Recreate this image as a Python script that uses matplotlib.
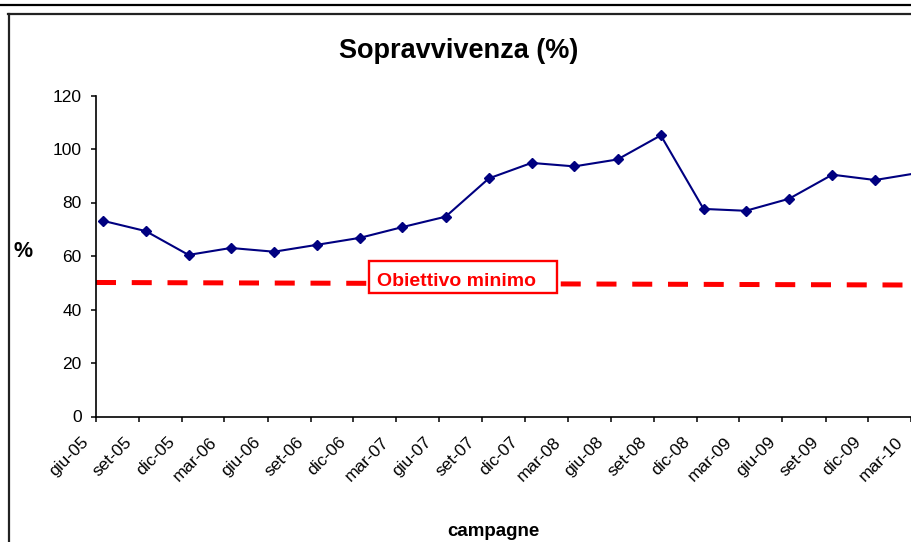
import matplotlib
matplotlib.use("Agg")
import matplotlib.pyplot as plt
import matplotlib.transforms as mtransforms
from matplotlib.lines import Line2D
from matplotlib.patches import Rectangle
import pandas as pd

plt.rcParams["font.family"] = ["Liberation Sans", "DejaVu Sans"]

# Quarterly survey campaigns
campagne = ["giu-05", "set-05", "dic-05", "mar-06", "giu-06", "set-06", "dic-06",
            "mar-07", "giu-07", "set-07", "dic-07", "mar-08", "giu-08", "set-08",
            "dic-08", "mar-09", "giu-09", "set-09", "dic-09", "mar-10"]
sopravvivenza = [73.2, 69.3, 60.4, 63.0, 61.6, 64.2, 66.8,
                 70.8, 74.7, 89.0, 94.8, 93.5, 96.1, 105.1,
                 77.6, 76.9, 81.4, 90.4, 88.4, 91.0]
obiettivo_inizio = 50.1
obiettivo_fine = 49.1

W, H = 912, 542
fig = plt.figure(figsize=(W / 100, H / 100), dpi=100)

def fx(px):
    return px / W

def fy(py):
    return 1 - py / H

# Campaign start dates (ticks) and mid-month sampling dates (points)
inizio = pd.date_range("2005-06-01", periods=len(campagne), freq="3MS")
date_misura = inizio + pd.Timedelta(days=14)
x_min = pd.Timestamp("2005-06-01")
x_max = pd.Timestamp("2010-06-01")

ax = fig.add_axes([fx(96), fy(416.5), fx(858), 321 / H])
ax.set_facecolor("none")

ax.plot(date_misura, sopravvivenza, color="#000080", lw=1.5,
        marker="D", ms=4.8, mfc="#000080", mec="#000080", zorder=3)

soglia, = ax.plot([x_min, x_max], [obiettivo_inizio, obiettivo_fine],
                  color="#FF0000", lw=3.6, solid_capstyle="butt",
                  dash_capstyle="butt", zorder=2)
soglia.set_dashes((4.0, 3.15))

ax.set_xlim(x_min, x_max)
ax.set_ylim(0, 120)
ax.set_yticks(range(0, 121, 20))
ax.set_xticks(inizio)
ax.set_xticklabels(campagne, rotation=45, ha="right", va="top",
                   rotation_mode="anchor")

for s in ("top", "right"):
    ax.spines[s].set_visible(False)
for s in ("left", "bottom"):
    ax.spines[s].set_linewidth(1.2)
    ax.spines[s].set_color("black")

ax.tick_params(axis="both", direction="out", length=3.8, width=1.1,
               labelsize=12.5, colors="black")
ax.tick_params(axis="y", pad=6.5)
ax.tick_params(axis="x", pad=4)

# Shift the rotated date labels so their ends sit just left of each tick
shift = mtransforms.ScaledTranslation(-15 / 100, -7 / 100, fig.dpi_scale_trans)
for lab in ax.get_xticklabels():
    lab.set_transform(lab.get_transform() + shift)

# Title and axis captions
fig.text(fx(459), fy(58.5), "Sopravvivenza (%)", ha="center", va="baseline",
         fontsize=19.5, fontweight="bold")
fig.text(fx(23), fy(257), "%", ha="center", va="baseline",
         fontsize=15.5, fontweight="bold")
fig.text(fx(493), fy(536), "campagne", ha="center", va="baseline",
         fontsize=13.5, fontweight="bold")

# Label box for the minimum target
fig.add_artist(Rectangle((fx(369), fy(293.3)), fx(188.3), 32.3 / H,
                         transform=fig.transFigure, facecolor="white",
                         edgecolor="#FF0000", lw=1.7, zorder=5))
fig.text(fx(377), fy(286.5), "Obiettivo minimo", ha="left", va="baseline",
         fontsize=14, fontweight="bold", color="#FF0000", zorder=6)

# Frame lines
fig.add_artist(Line2D([0, 1], [fy(5), fy(5)], transform=fig.transFigure,
                      color="black", lw=1.6))
fig.add_artist(Line2D([fx(8.5), 1], [fy(14.3), fy(14.3)],
                      transform=fig.transFigure, color="#222222", lw=1.6))
fig.add_artist(Line2D([fx(9), fx(9)], [fy(14.3), 0],
                      transform=fig.transFigure, color="#222222", lw=1.6))

fig.savefig("out.png", dpi=100)
